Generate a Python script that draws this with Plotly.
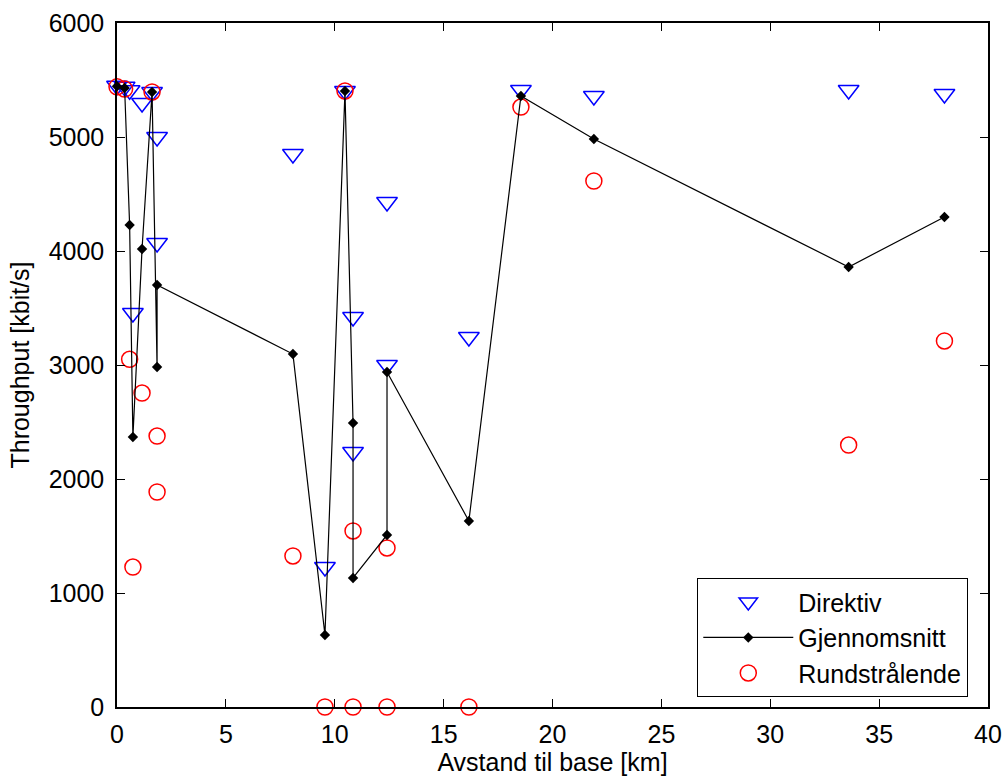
import plotly.graph_objects as go

# Distance to base station [km]
distance = [0.0, 0.35, 0.58, 0.73, 1.15, 1.61, 1.84, 1.84, 8.08, 9.55,
            10.47, 10.84, 10.84, 12.40, 12.40, 16.16, 18.55, 21.90, 33.60, 38.00]
# Throughput, directional antenna [kbit/s]
direktiv = [5450, 5440, 5410, 3456, 5298, 5395, 4070, 5000, 4851, 1228,
            5404, 3421, 2237, 3000, 4430, 3246, 5412, 5360, 5412, 5377]
# Throughput, omnidirectional antenna [kbit/s]
rundstralende = [5440, 5420, 3050, 1228, 2754, 5395, 1886, 2377, 1325, 0,
                 5404, 1544, 0, 0, 1395, 0, 5263, 4614, 2298, 3211]
# Average [kbit/s]
gjennomsnitt = [5445, 5430, 4228, 2368, 4018, 5395, 2982, 3702, 3096, 632,
                5404, 2491, 1132, 1509, 2939, 1632, 5360, 4982, 3860, 4298]

x_ticks = [0, 5, 10, 15, 20, 25, 30, 35, 40]
y_ticks = [0, 1000, 2000, 3000, 4000, 5000, 6000]

FONT = "Liberation Sans, Arial, Helvetica, sans-serif"
FS = 25

fig = go.Figure()
fig.add_trace(go.Scatter(
    x=distance, y=direktiv, mode="markers", name="Direktiv",
    marker=dict(symbol="triangle-down-open", size=18, color="#0000ff",
                line=dict(width=1.5, color="#0000ff")),
    cliponaxis=False, legendrank=1))
fig.add_trace(go.Scatter(
    x=distance, y=rundstralende, mode="markers", name="Rundstrålende",
    marker=dict(symbol="circle-open", size=16, color="#ff0000",
                line=dict(width=1.5, color="#ff0000")),
    cliponaxis=False, legendrank=3))
fig.add_trace(go.Scatter(
    x=distance, y=gjennomsnitt, mode="lines+markers", name="Gjennomsnitt",
    line=dict(color="black", width=1.2),
    marker=dict(symbol="diamond", size=8, color="black"),
    cliponaxis=False, legendrank=2))

axis_common = dict(
    showline=True, linecolor="black", linewidth=1.5, mirror="ticks",
    ticks="inside", ticklen=8, tickcolor="black", tickwidth=1.2,
    showgrid=False, zeroline=False, automargin=False,
    tickfont=dict(family=FONT, size=FS, color="black"),
)

fig.update_layout(
    width=1006, height=783, autosize=False,
    paper_bgcolor="white", plot_bgcolor="white",
    margin=dict(l=117, r=18, t=23, b=76),
    font=dict(family=FONT, size=FS, color="black"),
    xaxis=dict(range=[0, 40], tickvals=x_ticks, ticklabelstandoff=4,
               title=dict(text="Avstand til base [km]", standoff=6,
                          font=dict(family=FONT, size=FS)),
               **axis_common),
    yaxis=dict(range=[0, 6000], tickvals=y_ticks, ticklabelstandoff=6,
               title=dict(text="Throughput [kbit/s]", standoff=12,
                          font=dict(family=FONT, size=FS)),
               **axis_common),
    legend=dict(x=0.666, y=0.0146, xanchor="left", yanchor="bottom",
                bgcolor="white", bordercolor="black", borderwidth=1.2,
                font=dict(family=FONT, size=FS), tracegroupgap=0,
                itemwidth=90),
    showlegend=True,
)

fig.write_html("out.html")
